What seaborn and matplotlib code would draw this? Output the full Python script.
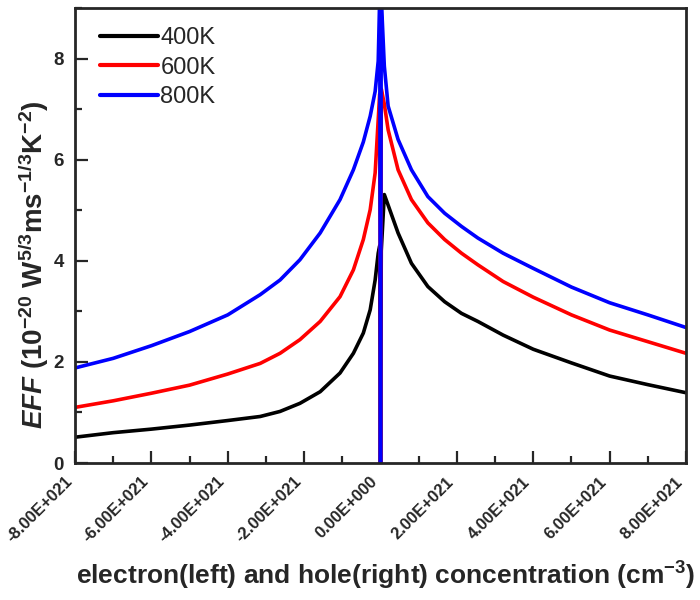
import numpy as np
import pandas as pd
import matplotlib
matplotlib.use("Agg")
import matplotlib.pyplot as plt
import seaborn as sns
from matplotlib.ticker import MultipleLocator, FuncFormatter

# ---- data (x in units of 1e21 cm^-3) ----
x_left = [-8, -7, -6, -5, -4, -3.15, -2.63, -2.11, -1.58, -1.06, -0.71, -0.45, -0.27, -0.14, -0.06, -0.02]
x_mid = [0.0]
x_right = [0.02, 0.1, 0.2, 0.46, 0.81, 1.24, 1.68, 2.12, 2.55, 3.21, 4.0, 5.0, 6.0, 7.0, 8.0]

eff_400_left = [0.51, 0.60, 0.67, 0.75, 0.84, 0.92, 1.02, 1.18, 1.41, 1.78, 2.17, 2.57, 3.03, 3.62, 4.15, 4.3]
eff_600_left = [1.10, 1.23, 1.38, 1.54, 1.76, 1.97, 2.17, 2.44, 2.80, 3.29, 3.82, 4.42, 5.01, 5.74, 6.79, 7.3]
eff_800_left = [1.88, 2.07, 2.32, 2.60, 2.93, 3.33, 3.62, 4.02, 4.55, 5.21, 5.80, 6.35, 6.86, 7.35, 7.95, 9.2]
eff_mid = [0.0]
eff_400_right = [4.2, 5.31, 5.10, 4.55, 3.95, 3.49, 3.19, 2.96, 2.80, 2.53, 2.25, 1.98, 1.72, 1.55, 1.39]
eff_600_right = [7.4, 7.1, 6.59, 5.80, 5.21, 4.75, 4.42, 4.15, 3.92, 3.59, 3.28, 2.93, 2.63, 2.40, 2.17]
eff_800_right = [9.2, 7.85, 7.06, 6.40, 5.80, 5.27, 4.94, 4.68, 4.45, 4.15, 3.85, 3.48, 3.17, 2.93, 2.68]

labels = ["400K", "600K", "800K"]
colors = ["#000000", "#ff0000", "#0000ff"]

x_all = x_left + x_mid + x_right
series = {
    "400K": eff_400_left + eff_mid + eff_400_right,
    "600K": eff_600_left + eff_mid + eff_600_right,
    "800K": eff_800_left + eff_mid + eff_800_right,
}
rows = []
for lab in labels:
    for xv, yv in zip(x_all, series[lab]):
        rows.append({"x": xv * 1e21, "y": yv, "T": lab})
df = pd.DataFrame(rows)

# ---- style ----
sns.set_style("ticks")
plt.rcParams["font.family"] = ["Liberation Sans", "DejaVu Sans"]
plt.rcParams["mathtext.fontset"] = "custom"
plt.rcParams["mathtext.rm"] = "Liberation Sans:bold"
plt.rcParams["mathtext.bf"] = "Liberation Sans:bold"
plt.rcParams["mathtext.it"] = "Liberation Sans:italic:bold"
plt.rcParams["mathtext.default"] = "rm"

fig = plt.figure(figsize=(7, 6), dpi=100)
ax = fig.add_axes([75 / 700, 1 - 463 / 600, (686 - 75) / 700, (463 - 8) / 600])

sns.lineplot(data=df, x="x", y="y", hue="T", palette=colors, hue_order=labels,
             sort=False, estimator=None, linewidth=2.6, ax=ax)

ax.set_xlim(-8e21, 8e21)
ax.set_ylim(0, 9)
ax.xaxis.set_major_locator(MultipleLocator(2e21))
ax.xaxis.set_minor_locator(MultipleLocator(1e21))
ax.yaxis.set_major_locator(MultipleLocator(2))
ax.yaxis.set_minor_locator(MultipleLocator(1))


def sci_fmt(v, pos):
    s = f"{v:.2E}"
    m, e = s.split("E")
    e = int(e)
    return f"{m}E{'+' if e >= 0 else '-'}{abs(e):03d}"


ax.xaxis.set_major_formatter(FuncFormatter(sci_fmt))
ax.tick_params(axis="x", which="major", pad=8)
ax.tick_params(axis="y", which="major", pad=8)
ax.tick_params(which="major", direction="in", length=9, width=1.6, top=False, right=False)
ax.tick_params(which="minor", direction="in", length=5, width=1.6, top=False, right=False)
for lbl in ax.get_xticklabels():
    lbl.set_rotation(45)
    lbl.set_ha("right")
    lbl.set_fontweight("bold")
    lbl.set_fontsize(12)
for lbl in ax.get_yticklabels():
    lbl.set_fontweight("bold")
    lbl.set_fontsize(13.5)

for sp in ax.spines.values():
    sp.set_linewidth(2.0)
    sp.set_visible(True)

ax.set_xlabel(r"electron(left) and hole(right) concentration (cm$^{-3}$)",
              fontsize=19, fontweight="bold")
ax.xaxis.set_label_coords(0.508, -0.212)
ax.set_ylabel(r"$\mathit{EFF}$ (10$^{-20}$ W$^{5/3}$ms$^{-1/3}$K$^{-2}$)",
              fontsize=20, fontweight="bold")
ax.yaxis.set_label_coords(-0.067, 0.435)
ax.yaxis.label.set_va("center")

leg = ax.legend(loc="upper left", bbox_to_anchor=(0.014, 0.995), frameon=False,
                fontsize=17, handlelength=2.45, handletextpad=0.1, labelspacing=0.33,
                borderaxespad=0.3)
for line in leg.get_lines():
    line.set_linewidth(3)

fig.savefig("out.png", dpi=100)
